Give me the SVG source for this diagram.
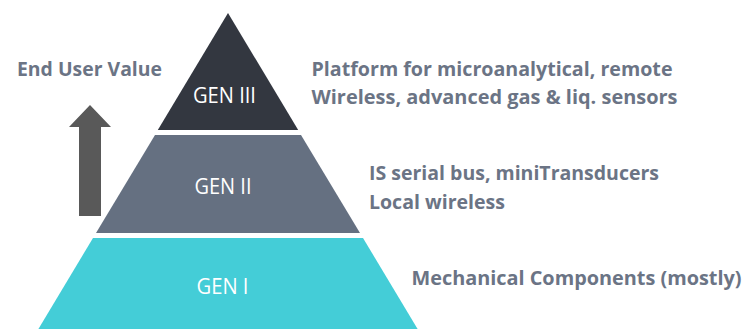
<svg xmlns="http://www.w3.org/2000/svg" width="745" height="329" viewBox="0 0 745 329">
<style>
.lbl{font-family:"Open Sans","Noto Sans","Liberation Sans",sans-serif;font-weight:bold;font-size:19px;fill:#6b7485}
.gen{font-family:"Open Sans","Noto Sans","Liberation Sans",sans-serif;font-size:21px;fill:#ffffff;text-anchor:middle}
</style>
<rect width="745" height="329" fill="#ffffff"/>
<g id="gen3">
<polygon points="228,13 298.2,130 157.8,130" fill="#333740"/>
<text class="gen" x="224.5" y="102.5" textLength="63" lengthAdjust="spacingAndGlyphs">GEN III</text>
</g>
<g id="gen2">
<polygon points="155,135 301,135 360,233 96,233" fill="#657081"/>
<text class="gen" x="223" y="194" textLength="57" lengthAdjust="spacingAndGlyphs">GEN II</text>
</g>
<g id="gen1">
<polygon points="93,238 363,238 417.6,329 38.4,329" fill="#44cdd7"/>
<text class="gen" x="222.5" y="294" textLength="52" lengthAdjust="spacingAndGlyphs">GEN I</text>
</g>
<g id="arrow">
<polygon points="90,105 111,127 101,127 101,216 79,216 79,127 69,127" fill="#595959"/>
</g>
<g id="labels">
<text class="lbl" x="17" y="75.5" textLength="145" lengthAdjust="spacingAndGlyphs">End User Value</text>
<text class="lbl" x="311.5" y="75.5" textLength="361" lengthAdjust="spacingAndGlyphs">Platform for microanalytical, remote</text>
<text class="lbl" x="311.5" y="104" textLength="366" lengthAdjust="spacingAndGlyphs">Wireless, advanced gas &amp; liq. sensors</text>
<text class="lbl" x="369" y="180" textLength="290" lengthAdjust="spacingAndGlyphs">IS serial bus, miniTransducers</text>
<text class="lbl" x="369" y="209" textLength="136" lengthAdjust="spacingAndGlyphs">Local wireless</text>
<text class="lbl" x="411.5" y="285" textLength="330" lengthAdjust="spacingAndGlyphs">Mechanical Components (mostly)</text>
</g>
</svg>
